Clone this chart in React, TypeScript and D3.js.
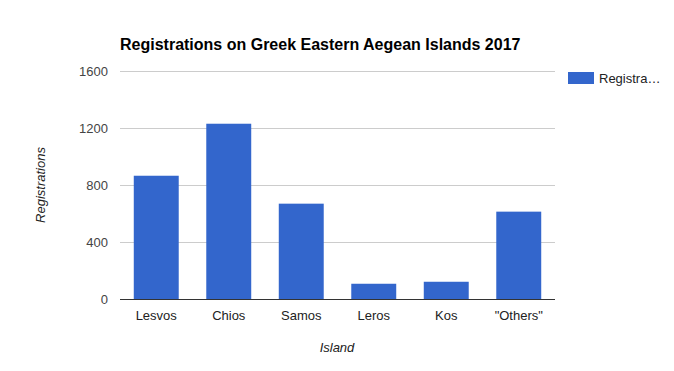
import React from "react"
import * as d3 from "d3"

const islands = ["Lesvos", "Chios", "Samos", "Leros", "Kos", "\"Others\""]
const registrations = [865, 1230, 669, 107, 121, 613]
const yTicks = [0, 400, 800, 1200, 1600]

const width = 674
const height = 371
const margin = { left: 120, right: 119, top: 71, bottom: 72 }
const font = "'Liberation Sans', Arial, sans-serif"

export default function App() {
  const x = d3
    .scaleBand()
    .domain(islands)
    .range([margin.left, width - margin.right])
    .paddingInner(0.38)
    .paddingOuter(0.19)
  const y = d3
    .scaleLinear()
    .domain([0, 1600])
    .range([height - margin.bottom, margin.top])

  return (
    <svg
      width={width}
      height={height}
      style={{ position: "absolute", left: 0, top: 0, background: "#fff" }}
      fontFamily={font}
    >
      <text x={120} y={50} fontSize={16} fontWeight="bold" fill="#000">
        Registrations on Greek Eastern Aegean Islands 2017
      </text>
      {yTicks.map((t) => (
        <g key={t}>
          {t > 0 && (
            <line
              x1={margin.left}
              x2={width - margin.right}
              y1={y(t) + 0.5}
              y2={y(t) + 0.5}
              stroke="#cccccc"
            />
          )}
          <text x={108} y={y(t) + 5} fontSize={13} fill="#444" textAnchor="end">
            {t}
          </text>
        </g>
      ))}
      {islands.map((d, i) => (
        <rect
          key={d}
          x={x(d)}
          y={y(registrations[i])}
          width={x.bandwidth()}
          height={y(0) - y(registrations[i])}
          fill="#3366cc"
        />
      ))}
      <line
        x1={margin.left}
        x2={width - margin.right}
        y1={y(0) + 0.5}
        y2={y(0) + 0.5}
        stroke="#333"
      />
      {islands.map((d) => (
        <text
          key={d}
          x={(x(d) ?? 0) + x.bandwidth() / 2}
          y={320}
          fontSize={13}
          fill="#222"
          textAnchor="middle"
        >
          {d}
        </text>
      ))}
      <text x={337} y={352} fontSize={13} fontStyle="italic" fill="#222" textAnchor="middle">
        Island
      </text>
      <text
        transform={`translate(45, ${(y(0) + y(1600)) / 2}) rotate(-90)`}
        fontSize={13}
        fontStyle="italic"
        fill="#222"
        textAnchor="middle"
      >
        Registrations
      </text>
      <rect x={568} y={72} width={26} height={12} fill="#3366cc" />
      <text x={599} y={83} fontSize={13} fill="#222">
        Registra…
      </text>
    </svg>
  )
}
